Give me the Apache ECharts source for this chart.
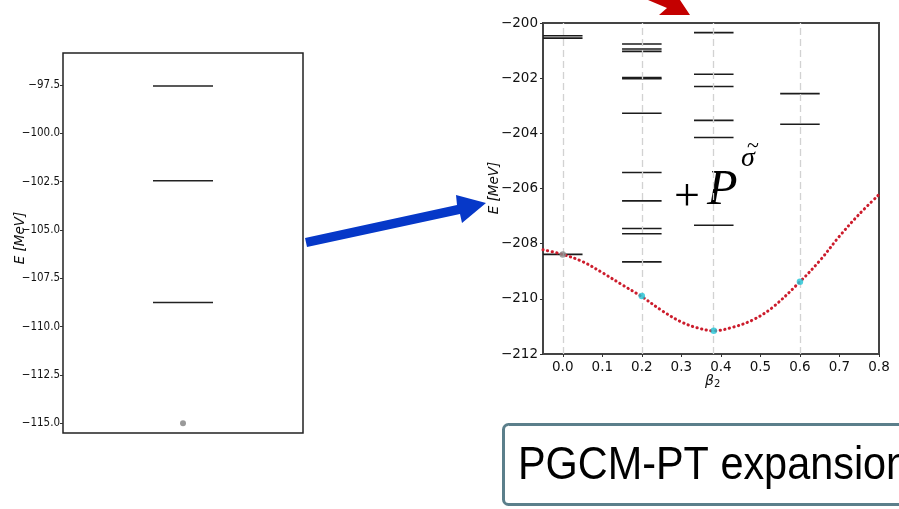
<!DOCTYPE html>
<html>
<head>
<meta charset="utf-8">
<script src="https://cdn.jsdelivr.net/npm/echarts@6/dist/echarts.min.js"></script>
<style>
  html, body { margin: 0; padding: 0; background: #fff; }
  #chart { width: 899px; height: 509px; }
</style>
</head>
<body>
<div id="chart"></div>
<script>
// ---- Left panel: spectrum at a single deformation ----
const leftTicks = [-97.5, -100, -102.5, -105, -107.5, -110, -112.5, -115];
const leftLevels = [-97.55, -102.45, -108.75];
const leftGround = -115.0;

// ---- Right panel: projected states per deformation beta_2 ----
const betaTicks = [0, 0.1, 0.2, 0.3, 0.4, 0.5, 0.6, 0.7, 0.8];
const energyTicks = [-212, -210, -208, -206, -204, -202, -200];
const columnBetas = [0, 0.2, 0.382, 0.6];
const levelsBeta0 = [-200.46, -200.55, -208.39];
const levelsBeta02 = [-200.76, -200.94, -201.03, -201.98, -202.02, -203.27, -205.42, -206.45, -207.45, -207.64, -208.66];
const levelsBeta038 = [-200.35, -201.86, -202.30, -203.53, -204.15, -207.33];
const levelsBeta06 = [-202.56, -203.67];

// mean-field energy curve
const curveBeta = [-0.05, 0, 0.05, 0.1, 0.15, 0.2, 0.25, 0.3, 0.34, 0.382, 0.43, 0.48, 0.53, 0.6, 0.65, 0.7, 0.75, 0.8];
const curveE = [-208.22, -208.39, -208.65, -209.05, -209.49, -209.92, -210.42, -210.84, -211.05, -211.16, -211.03, -210.77, -210.32, -209.38, -208.62, -207.73, -206.93, -206.22];

// reference states on the curve
const sphericalPoint = [0, -208.39];
const deformedBeta = [0.2, 0.382, 0.6];
const deformedE = [-209.9, -211.16, -209.38];

const minus = v => (v < 0 ? '\u2212' : '') + Math.abs(v);

const chart = echarts.init(document.getElementById('chart'));

function levelSeries(name, gridIndex, data, half, color, width) {
  return {
    name: name,
    type: 'custom',
    xAxisIndex: gridIndex,
    yAxisIndex: gridIndex,
    z: 3,
    data: data,
    renderItem: function (params, api) {
      const x = api.value(0), e = api.value(1);
      const a = api.coord([x - half, e]);
      const b = api.coord([x + half, e]);
      return {
        type: 'line',
        shape: { x1: a[0], y1: a[1], x2: b[0], y2: b[1] },
        style: { stroke: color, lineWidth: width }
      };
    }
  };
}

const rightLevelData = [];
[levelsBeta0, levelsBeta02, levelsBeta038, levelsBeta06].forEach((list, i) => {
  list.forEach(e => rightLevelData.push([columnBetas[i], e]));
});

const option = {
  animation: false,
  backgroundColor: '#ffffff',
  grid: [
    { left: 63, top: 53, width: 240, height: 380, show: true, borderColor: '#222', borderWidth: 1.5,
      containLabel: false, outerBoundsMode: 'none' },
    { left: 543, top: 23, width: 336, height: 331, show: true, borderColor: '#444', borderWidth: 2,
      containLabel: false, outerBoundsMode: 'none' }
  ],
  xAxis: [
    { type: 'value', gridIndex: 0, min: -1, max: 1,
      axisLine: { show: false, onZero: false }, axisTick: { show: false }, axisLabel: { show: false }, splitLine: { show: false } },
    { type: 'value', gridIndex: 1, min: -0.05, max: 0.8,
      axisLine: { show: false, onZero: false },
      axisTick: { show: true, length: 3, customValues: betaTicks, lineStyle: { color: '#333' } },
      axisLabel: { customValues: betaTicks, formatter: v => v.toFixed(1), color: '#111',
        fontFamily: 'DejaVu Sans', fontSize: 13.5, margin: 6 },
      splitLine: { show: false } }
  ],
  yAxis: [
    { type: 'value', gridIndex: 0, min: -115.5, max: -95.845,
      axisLine: { show: false, onZero: false },
      axisTick: { show: true, length: 3, customValues: leftTicks, lineStyle: { color: '#333' } },
      axisLabel: { customValues: leftTicks, formatter: v => minus(Number(v.toFixed(1))).replace(/^(\u2212?\d+)$/, '$1.0'),
        color: '#111', fontFamily: 'DejaVu Sans Condensed, DejaVu Sans', fontSize: 11.5, margin: 3 },
      splitLine: { show: false } },
    { type: 'value', gridIndex: 1, min: -212, max: -200, interval: 2,
      axisLine: { show: false, onZero: false },
      axisTick: { show: true, length: 3, lineStyle: { color: '#333' } },
      axisLabel: { formatter: v => minus(v), color: '#111', fontFamily: 'DejaVu Sans', fontSize: 13.5, margin: 5 },
      splitLine: { show: false } }
  ],
  series: [
    // left panel
    levelSeries('leftLevels', 0, leftLevels.map(e => [0, e]), 0.25, '#222', 1.6),
    { type: 'scatter', xAxisIndex: 0, yAxisIndex: 0, z: 5, symbolSize: 6,
      itemStyle: { color: '#808080' }, data: [[0, leftGround]] },

    // right panel: guide lines at the sampled deformations
    { type: 'line', xAxisIndex: 1, yAxisIndex: 1, z: 1, data: [], silent: true,
      markLine: { silent: true, symbol: ['none', 'none'], label: { show: false },
        lineStyle: { color: '#d2d2d2', width: 1.3, type: [7, 4] },
        data: columnBetas.map(b => ({ xAxis: b })) } },
    levelSeries('rightLevels', 1, rightLevelData, 0.05, '#1c1c1c', 1.6),
    { type: 'line', xAxisIndex: 1, yAxisIndex: 1, z: 4, smooth: 0.35, showSymbol: false,
      lineStyle: { color: '#cc1c2c', width: 3, type: [0.3, 4.4], cap: 'round' },
      data: curveBeta.map((b, i) => [b, curveE[i]]) },
    { type: 'scatter', xAxisIndex: 1, yAxisIndex: 1, z: 6, symbolSize: 6.5,
      itemStyle: { color: '#8a8a8a' }, data: [sphericalPoint] },
    { type: 'scatter', xAxisIndex: 1, yAxisIndex: 1, z: 6, symbolSize: 6.5,
      itemStyle: { color: '#22c4d6' }, data: deformedBeta.map((b, i) => [b, deformedE[i]]) }
  ],
  graphic: [
    // axis titles
    { type: 'text', x: 20, y: 238, rotation: Math.PI / 2,
      style: { text: 'E [MeV]', font: 'italic 13.5px "DejaVu Sans"', fill: '#111', align: 'center', verticalAlign: 'middle' } },
    { type: 'text', x: 494, y: 188, rotation: Math.PI / 2,
      style: { text: 'E [MeV]', font: 'italic 13.5px "DejaVu Sans"', fill: '#111', align: 'center', verticalAlign: 'middle' } },
    { type: 'text', x: 705, y: 381,
      style: { text: '{b|\u03b2}{s|2}', fill: '#111', align: 'left', verticalAlign: 'middle',
        rich: { b: { font: 'italic 14px "DejaVu Sans"', fill: '#111' },
                s: { font: '10px "DejaVu Sans"', fill: '#111', padding: [6, 0, 0, 0] } } } },

    // projection operator
    { type: 'text', x: 674, y: 197.5,
      style: { text: '+', font: '46px "Liberation Serif"', fill: '#000', align: 'left', verticalAlign: 'middle' } },
    { type: 'text', x: 707, y: 216,
      style: { text: 'P', font: 'italic 50px "Liberation Serif"', fill: '#000', align: 'left', verticalAlign: 'bottom' } },
    { type: 'text', x: 741, y: 173,
      style: { text: '\u03c3', font: 'italic 28px "Liberation Serif"', fill: '#000', align: 'left', verticalAlign: 'bottom' } },
    { type: 'text', x: 753, y: 146,
      style: { text: '~', font: '22px "Liberation Serif"', fill: '#000', align: 'center', verticalAlign: 'middle' } },

    // arrows
    { type: 'polygon', z: 10,
      shape: { points: [[305, 238], [457, 205], [456, 195], [486, 203], [462, 223], [460, 214], [307, 247]] },
      style: { fill: '#0638c8' } },
    { type: 'polygon', z: 10,
      shape: { points: [[648, 0], [667, 8], [659, 15], [690, 15], [680, 0]] },
      style: { fill: '#c40000' } },

    // caption box
    { type: 'rect', z: 10,
      shape: { x: 503.5, y: 424.5, width: 420, height: 80, r: 5 },
      style: { fill: '#ffffff', stroke: '#5b7f8b', lineWidth: 3 } },
    { type: 'text', z: 11, x: 518, y: 466, scaleX: 0.9,
      style: { text: 'PGCM-PT expansion', font: '46px "Liberation Sans"', fill: '#000', align: 'left', verticalAlign: 'middle' } }
  ]
};

chart.setOption(option);
</script>
</body>
</html>
